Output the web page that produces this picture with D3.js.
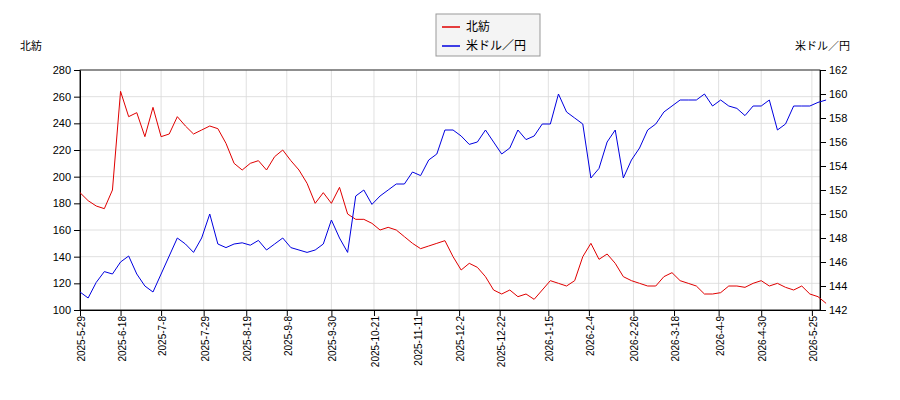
<!DOCTYPE html>
<html><head><meta charset="utf-8">
<script src="https://cdn.jsdelivr.net/npm/d3@7"></script>
<style>body{margin:0;background:#fff;font-family:"DejaVu Sans","Noto Sans CJK JP",sans-serif;}</style>
</head><body><svg id="c" width="900" height="400"></svg>
<script>
const startDate = "2025-05-29";
const stepDays = 4;
const hokuboValues = [188,182,178,176,190,264,245,248,230,252,230,232,245,238,232,235,238,236,225,210,205,210,212,205,215,220,212,205,195,180,188,180,192,172,168,168,165,160,162,160,155,150,146,148,150,152,140,130,135,132,125,115,112,115,110,112,108,115,122,120,118,122,140,150,138,142,135,125,122,120,118,118,125,128,122,120,118,112,112,113,118,118,117,120,122,118,120,117,115,118,112,110,105];
const usdjpyValues = [143.5,143.0,144.3,145.2,145.0,146,146.5,145,144,143.5,145,146.5,148,147.5,146.8,148,150,147.5,147.2,147.5,147.6,147.4,147.8,147.0,147.5,148.0,147.2,147.0,146.8,147.0,147.5,149.5,148,146.8,151.5,152,150.8,151.5,152,152.5,152.5,153.5,153.2,154.5,155,157,157,156.5,155.8,156,157,156,155,155.5,157,156.2,156.5,157.5,157.5,160,158.5,158,157.5,153,153.8,156,157,153,154.5,155.5,157,157.5,158.5,159,159.5,159.5,159.5,160,159,159.5,159,158.8,158.2,159,159,159.5,157,157.5,159,159,159,159.3,159.5];
const tickDates = ["2025-5-29","2025-6-18","2025-7-8","2025-7-29","2025-8-19","2025-9-8","2025-9-30","2025-10-21","2025-11-11","2025-12-2","2025-12-22","2026-1-15","2026-2-4","2026-2-26","2026-3-18","2026-4-9","2026-4-30","2026-5-25"];
const leftTicks = [100,120,140,160,180,200,220,240,260,280];
const rightTicks = [142,144,146,148,150,152,154,156,158,160,162];

const parse = s => { const [y,m,d] = s.split("-").map(Number); return new Date(y, m-1, d); };
const t0 = parse(startDate);
const dateAt = i => new Date(t0.getFullYear(), t0.getMonth(), t0.getDate() + i*stepDays);

const svg = d3.select("#c");
const L = 80, R = 820, T = 70, B = 310;
const x = d3.scaleTime().domain([t0, parse("2026-05-29")]).range([L, R]);
const yL = d3.scaleLinear().domain([100,280]).range([B,T]);
const yR = d3.scaleLinear().domain([142,162]).range([B,T]);

const g = svg.append("g");
tickDates.forEach(s => g.append("line").attr("x1", x(parse(s))).attr("x2", x(parse(s))).attr("y1", T).attr("y2", B).attr("stroke","#d8d8d8").attr("stroke-width",0.8));
leftTicks.forEach(v => g.append("line").attr("x1", L).attr("x2", R).attr("y1", yL(v)).attr("y2", yL(v)).attr("stroke","#d8d8d8").attr("stroke-width",0.8));

const fmt = d => `${d.getFullYear()}-${d.getMonth()+1}-${d.getDate()}`;
const xa = svg.append("g").attr("transform",`translate(0,${B})`).call(d3.axisBottom(x).tickValues(tickDates.map(parse)).tickFormat(fmt).tickSizeOuter(0));
xa.selectAll("text").attr("transform","rotate(-90)").attr("text-anchor","end").attr("dx","-0.6em").attr("dy","-0.45em").attr("font-size",10);
svg.append("g").attr("transform",`translate(${L},0)`).call(d3.axisLeft(yL).tickValues(leftTicks).tickSizeOuter(0)).selectAll("text").attr("font-size",11);
svg.append("g").attr("transform",`translate(${R},0)`).call(d3.axisRight(yR).tickValues(rightTicks).tickSizeOuter(0)).selectAll("text").attr("font-size",11);
svg.append("rect").attr("x",L).attr("y",T).attr("width",R-L).attr("height",B-T).attr("fill","none").attr("stroke","#000").attr("stroke-width",0.8);

svg.append("path").datum(hokuboValues).attr("fill","none").attr("stroke","#e00000").attr("stroke-width",1)
  .attr("d", d3.line().x((d,i)=>x(dateAt(i))).y(d=>yL(d)));
svg.append("path").datum(usdjpyValues).attr("fill","none").attr("stroke","#0000e0").attr("stroke-width",1)
  .attr("d", d3.line().x((d,i)=>x(dateAt(i))).y(d=>yR(d)));

svg.append("text").attr("x",20).attr("y",50).attr("font-size",11).text("北紡");
svg.append("text").attr("x",850).attr("y",50).attr("font-size",11).attr("text-anchor","end").text("米ドル／円");

const lg = svg.append("g");
lg.append("rect").attr("x",436).attr("y",14).attr("width",104).attr("height",42).attr("fill","#f4f4f4").attr("stroke","#999");
[["北紡","#e00000"],["米ドル／円","#0000e0"]].forEach((e,i)=>{
  lg.append("line").attr("x1",442).attr("x2",460).attr("y1",27+i*19).attr("y2",27+i*19).attr("stroke",e[1]).attr("stroke-width",1.5);
  lg.append("text").attr("x",466).attr("y",31+i*19).attr("font-size",12).text(e[0]);
});
</script></body></html>
